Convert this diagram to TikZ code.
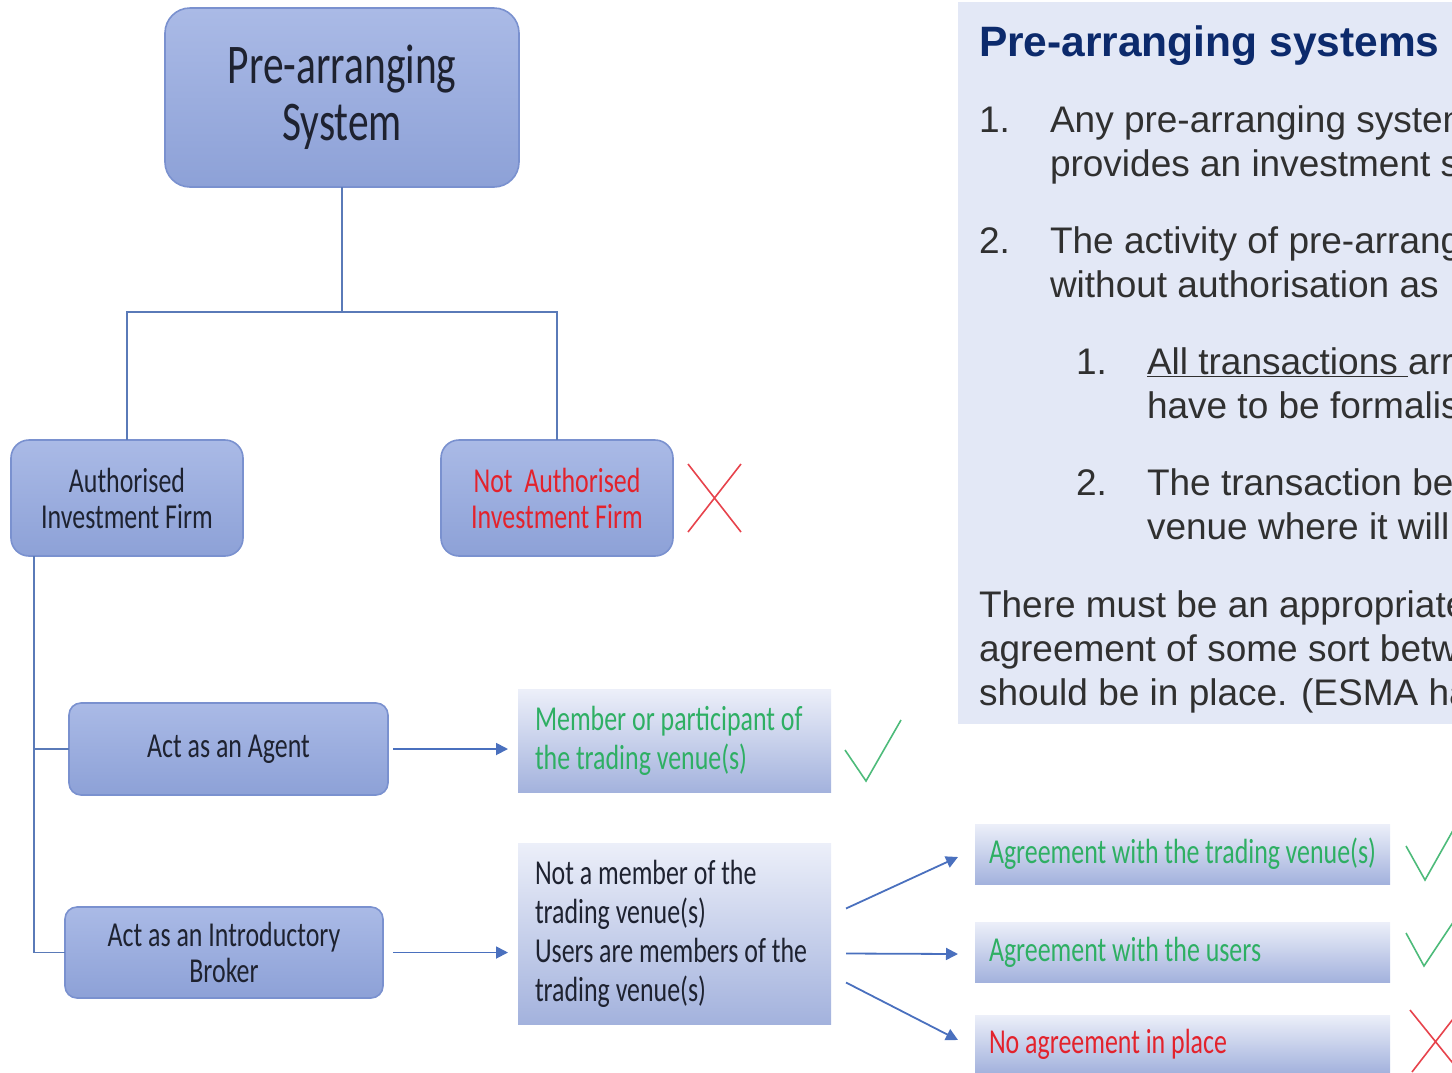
\documentclass[tikz,border=0pt]{standalone}
\usepackage{fontspec}
\usepackage{xcolor}
\usetikzlibrary{arrows.meta, positioning}

\newfontfamily\diagfont{Carlito}[FakeStretch=0.74]
\newfontfamily\panelfont{Liberation Sans}

\definecolor{boxtop}{HTML}{AABAE6}
\definecolor{boxbot}{HTML}{8DA1D7}
\definecolor{boxedge}{HTML}{7A91CF}
\definecolor{darktext}{HTML}{1E2230}
\definecolor{linkblue}{HTML}{5A7AB8}
\definecolor{arrowblue}{HTML}{4A70BE}
\definecolor{fadetop}{HTML}{ECEFF9}
\definecolor{fademid}{HTML}{DCE1F2}
\definecolor{fadebot}{HTML}{A3B2DD}
\definecolor{okgreen}{HTML}{2EAF63}
\definecolor{badred}{HTML}{E3222C}
\definecolor{panelbg}{HTML}{E3E8F6}
\definecolor{titlenavy}{HTML}{0C2A6C}
\definecolor{bodygrey}{HTML}{303030}

\begin{document}
\begin{tikzpicture}[
    x=1pt, y=-1pt,
    every node/.style={inner sep=0pt, outer sep=0pt},
    firmbox/.style={
        draw=boxedge,
        line width=1.6pt,
        rounded corners=18pt,
        top color=boxtop,
        bottom color=boxbot,
        align=center,
        text=darktext,
        font=\diagfont\fontsize{35}{36}\selectfont
    },
    fadebox/.style={
        rectangle,
        top color=fadetop,
        middle color=fademid,
        bottom color=fadebot,
        align=flush left,
        inner xsep=17pt,
        font=\diagfont\fontsize{35}{39}\selectfont
    },
    link/.style={draw=linkblue, line width=1.8pt},
    flow/.style={draw=arrowblue, line width=1.8pt, -{Triangle[length=12pt,width=12pt]}},
    tick/.style={draw=okgreen!85!white, line width=1.6pt},
    cross/.style={draw=badred!85!white, line width=1.6pt},
    numtext/.style={anchor=base west, text=bodygrey, font=\panelfont\fontsize{37}{44}\selectfont},
    paneltext/.style={anchor=base west, text=bodygrey, font=\panelfont\fontsize{37}{44}\selectfont}
]
\useasboundingbox (0,0) rectangle (1452,1072);
\clip (0,0) rectangle (1452,1072);

% Right panel: Pre-arranging systems
\fill[panelbg] (958,2) rectangle (1470,724);
\node[anchor=base west, text=titlenavy, font=\panelfont\bfseries\fontsize{42.5}{48}\selectfont] (title) at (979,56) {Pre-arranging systems};
\node[numtext] (num1) at (979,132) {1.};
\node[paneltext] (item1a) at (1050,132) {Any pre-arranging system};
\node[paneltext] (item1b) at (1050,176) {provides an investment service};
\node[numtext] (num2) at (979,253) {2.};
\node[paneltext] (item2a) at (1050,253) {The activity of pre-arranging};
\node[paneltext] (item2b) at (1050,297) {without authorisation as};
\node[numtext] (sub1) at (1076,374) {1.};
\node[paneltext] (sub1a) at (1147,374) {\underline{All transactions }arranged};
\node[paneltext] (sub1b) at (1147,418) {have to be formalised};
\node[numtext] (sub2) at (1076,495) {2.};
\node[paneltext] (sub2a) at (1147,495) {The transaction being};
\node[paneltext] (sub2b) at (1147,539) {venue where it will};
\node[paneltext] (para1) at (979,617) {There must be an appropriate};
\node[paneltext] (para2) at (979,661) {agreement of some sort between};
\node[paneltext] (para3) at (979,705) {should be in place. (ESMA has};

% Block 1: Pre-arranging System (top)
\node[firmbox, rounded corners=25pt, minimum width=354pt, minimum height=179pt,
      font=\diagfont\fontsize{56}{57}\selectfont] (prearr) at (342,97.5)
{Pre-arranging\\System};

% Block 2: Authorised / Not Authorised firms
\node[firmbox, minimum width=232pt, minimum height=116pt] (auth) at (127,498)
{Authorised\\Investment Firm};
\node[firmbox, minimum width=232pt, minimum height=116pt, text=badred] (notauth) at (557,498)
{Not~~Authorised\\Investment Firm};

% Block 3: roles of the authorised firm
\node[firmbox, rounded corners=12pt, minimum width=319pt, minimum height=92pt] (agent) at (228.5,749)
{Act as an Agent};
\node[firmbox, rounded corners=12pt, minimum width=318pt, minimum height=91pt] (broker) at (224,952.5)
{Act as an Introductory\\Broker};

% Block 4: trading venue membership
\node[fadebox, text width=279pt, minimum height=103pt, text=okgreen] (member) at (674.5,741)
{Member or participant of\\the trading venue(s)};
\node[fadebox, text width=279pt, minimum height=181pt, text=darktext] (notmember) at (674.5,933.5)
{Not a member of the\\trading venue(s)\\Users are members of the\\trading venue(s)};

% Block 5: agreements
\node[fadebox, inner xsep=14pt, text width=387pt, minimum height=60pt, text=okgreen] (agreevenue) at (1182.5,854)
{Agreement with the trading venue(s)};
\node[fadebox, inner xsep=14pt, text width=387pt, minimum height=60pt, text=okgreen] (agreeusers) at (1182.5,952)
{Agreement with the users};
\node[fadebox, inner xsep=14pt, text width=387pt, minimum height=58pt, text=badred] (noagree) at (1182.5,1044)
{No agreement in place};

% tree connectors
\coordinate (split) at (342,312);
\draw[link] (prearr.south) -- (split);
\draw[link] (split) -| (auth.north);
\draw[link] (split) -| (notauth.north);
\draw[link] ([xshift=23pt]auth.south west) |- (agent.west);
\draw[link] ([xshift=23pt]auth.south west) |- (broker.west);

% arrows
\draw[flow, shorten <=5pt, shorten >=10pt] (agent.east) -- (agent.east -| member.west);
\draw[flow, shorten <=10pt, shorten >=10pt] (broker.east) -- (broker.east -| notmember.west);
\draw[flow] ([xshift=15pt,yshift=25pt]notmember.east) -- ([xshift=-17pt,yshift=-3pt]agreevenue.west);
\draw[flow] ([xshift=15pt,yshift=-20pt]notmember.east) -- ([xshift=-17pt,yshift=-2pt]agreeusers.west);
\draw[flow] ([xshift=15pt,yshift=-49pt]notmember.east) -- ([xshift=-17pt,yshift=4pt]noagree.west);

% ticks and crosses
\draw[cross] (688,464) -- (741,532) (688,532) -- (741,464);
\draw[tick] (845,750) -- (866,781) -- (901,720);
\draw[tick] (1406,846) -- (1425,880) -- (1460,818);
\draw[tick] (1406,933) -- (1424,966) -- (1460,912);
\draw[cross] (1410,1010) -- (1460,1072) (1412,1072) -- (1460,1010);

\end{tikzpicture}
\end{document}
